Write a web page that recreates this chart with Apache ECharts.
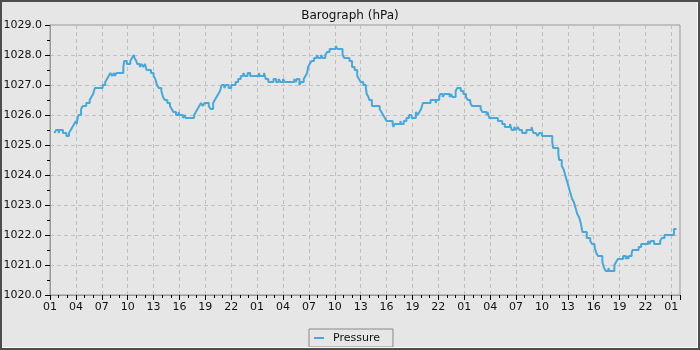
<!DOCTYPE html>
<html><head><meta charset="utf-8">
<script src="https://cdn.jsdelivr.net/npm/echarts@6/dist/echarts.min.js"></script>
<style>
html,body{margin:0;padding:0;background:#e6e6e6;}
#wrap{position:relative;width:700px;height:350px;}
#chart{position:absolute;left:0;top:0;width:700px;height:350px;}
#frame{position:absolute;left:0;top:0;width:700px;height:350px;box-sizing:border-box;border:2px solid #4d4d4d;pointer-events:none;}
#frame2{position:absolute;left:2px;top:2px;width:696px;height:346px;box-sizing:border-box;border-right:1px solid #fafafa;border-bottom:1px solid #fafafa;pointer-events:none;}
</style></head>
<body><div id="wrap"><div id="chart"></div><div id="frame"></div><div id="frame2"></div></div>
<script>
// hours since 01:00 on day 1
const hours = [0.5,0.7,1.0,1.1,1.5,1.9,2.2,2.4,2.6,2.8,3.0,3.1,3.2,3.3,3.6,3.8,4.2,4.6,4.8,5.0,5.1,5.2,6.1,6.4,6.6,6.8,7.0,7.2,7.4,7.5,7.7,8.5,8.6,8.9,9.3,9.5,9.7,9.8,10.0,10.1,10.4,10.6,10.8,11.0,11.2,11.7,12.0,12.2,12.4,12.6,12.9,13.1,13.3,13.6,13.9,14.1,14.3,14.6,14.9,15.0,15.4,15.6,15.7,16.7,16.9,17.1,17.3,17.5,17.7,17.9,18.4,18.6,18.9,19.1,19.3,19.5,19.7,19.9,20.2,20.4,20.7,21.0,21.5,21.8,22.1,22.4,22.6,22.9,23.2,24.2,24.3,24.8,25.0,25.3,25.9,26.2,26.5,26.7,27.0,27.2,28.3,28.5,28.6,28.9,29.1,29.4,29.6,29.8,29.9,30.1,30.3,30.6,30.9,31.1,31.4,31.6,31.9,32.1,32.4,33.1,33.3,33.9,34.1,34.7,35.0,35.3,35.6,35.8,36.0,36.3,36.6,36.7,36.9,37.0,37.3,38.2,38.4,38.6,38.8,39.0,39.7,39.8,39.9,40.6,40.7,41.0,41.3,41.6,41.9,42.4,42.6,42.8,43.0,43.2,44.1,44.7,44.8,45.1,45.2,45.5,45.7,46.3,46.5,46.6,47.0,47.2,47.6,47.9,48.2,48.4,48.7,48.9,49.9,50.1,50.6,50.7,50.9,51.9,52.4,52.7,53.3,53.5,53.8,54.0,54.2,54.4,54.7,55.2,55.8,55.9,56.0,56.3,56.5,56.7,57.0,58.2,58.3,58.9,59.0,59.3,59.5,59.6,59.8,59.9,60.1,60.2,60.4,60.5,60.7,60.9,61.1,61.3,61.5,61.7,62.2,62.6,62.8,63.1,63.3,63.5,64.0,64.2,64.4,64.7,64.8,65.4,65.6,65.8,66.4,66.7,66.9,67.0,67.1,67.4,67.5,68.2,68.5,69.3,69.5,69.6,70.0,70.7,70.9,71.2,72.3,72.6];
const pressure = [1025.4,1025.5,1025.4,1025.5,1025.4,1025.3,1025.4,1025.5,1025.6,1025.7,1025.8,1025.7,1025.9,1026.0,1026.2,1026.3,1026.4,1026.5,1026.6,1026.7,1026.8,1026.9,1027.0,1027.1,1027.2,1027.3,1027.4,1027.3,1027.4,1027.3,1027.4,1027.6,1027.8,1027.7,1027.8,1027.9,1028.0,1027.9,1027.8,1027.7,1027.6,1027.7,1027.6,1027.7,1027.5,1027.4,1027.3,1027.2,1027.0,1026.9,1026.8,1026.6,1026.5,1026.4,1026.3,1026.2,1026.1,1026.0,1026.1,1026.0,1025.9,1026.0,1025.9,1026.0,1026.1,1026.2,1026.3,1026.4,1026.3,1026.4,1026.3,1026.2,1026.4,1026.5,1026.6,1026.7,1026.8,1027.0,1026.9,1027.0,1026.9,1027.0,1027.1,1027.2,1027.3,1027.4,1027.3,1027.4,1027.3,1027.4,1027.3,1027.4,1027.2,1027.1,1027.2,1027.1,1027.2,1027.1,1027.2,1027.1,1027.2,1027.1,1027.2,1027.0,1027.1,1027.2,1027.3,1027.4,1027.6,1027.7,1027.8,1027.9,1028.0,1027.9,1028.0,1027.9,1028.0,1028.1,1028.2,1028.3,1028.2,1028.0,1027.9,1027.8,1027.6,1027.5,1027.3,1027.2,1027.1,1027.0,1026.9,1026.7,1026.6,1026.5,1026.3,1026.2,1026.1,1026.0,1025.9,1025.8,1025.7,1025.6,1025.7,1025.8,1025.7,1025.8,1025.9,1026.0,1025.9,1026.1,1026.0,1026.1,1026.2,1026.4,1026.5,1026.4,1026.5,1026.6,1026.7,1026.6,1026.7,1026.6,1026.7,1026.6,1026.8,1026.9,1026.8,1026.7,1026.6,1026.5,1026.4,1026.3,1026.2,1026.1,1026.0,1026.1,1025.9,1025.8,1025.7,1025.6,1025.7,1025.5,1025.6,1025.5,1025.6,1025.5,1025.4,1025.5,1025.6,1025.5,1025.4,1025.4,1025.3,1025.4,1025.3,1025.1,1024.9,1024.7,1024.5,1024.3,1024.2,1024.1,1023.9,1023.8,1023.6,1023.5,1023.3,1023.2,1023.1,1022.9,1022.7,1022.6,1022.4,1022.1,1021.9,1021.8,1021.7,1021.6,1021.4,1021.3,1021.1,1020.9,1020.8,1020.9,1020.8,1021.0,1021.1,1021.2,1021.3,1021.2,1021.3,1021.2,1021.3,1021.4,1021.5,1021.6,1021.7,1021.8,1021.7,1021.8,1021.7,1021.8,1021.9,1022.0,1022.2,1022.2];
const titleText = 'Barograph (hPa)';
const seriesName = 'Pressure';
const xMin = 0, xMax = 73, xInterval = 3;
const yMin = 1020, yMax = 1029, yInterval = 1;

const font = 'DejaVu Sans';
const chart = echarts.init(document.getElementById('chart'), null, {renderer:'canvas'});
chart.setOption({
  animation:false,
  backgroundColor:'#e6e6e6',
  title:{text:titleText,left:'center',top:5,textStyle:{fontFamily:font,fontSize:12,fontWeight:'normal',color:'#111'}},
  legend:{data:[seriesName],left:309,top:329,orient:'horizontal',icon:'rect',itemWidth:10,itemHeight:2,
    padding:[2,13,2,5],borderColor:'#888',borderWidth:1,
    textStyle:{fontFamily:font,fontSize:11,color:'#111',lineHeight:14,padding:[0,0,0,4]}},
  grid:{left:50,right:20,top:25,bottom:55,show:true,borderColor:'#999',borderWidth:1,backgroundColor:'transparent'},
  xAxis:{type:'value',min:xMin,max:xMax,interval:xInterval,
    axisLine:{show:true,lineStyle:{color:'#999'}},
    axisTick:{show:true,length:5,lineStyle:{color:'#000'}},
    minorTick:{show:true,splitNumber:3,length:3,lineStyle:{color:'#000'}},
    axisLabel:{fontFamily:font,fontSize:11,color:'#111',margin:7,showMaxLabel:false,
      formatter:v=>String((Math.round(v)+1)%24).padStart(2,'0')},
    splitLine:{show:true,lineStyle:{color:'#c0c0c0',type:[4,3],width:1}}},
  yAxis:{type:'value',min:yMin,max:yMax,interval:yInterval,
    axisLine:{show:true,lineStyle:{color:'#999'}},
    axisTick:{show:true,length:5,lineStyle:{color:'#000'}},
    minorTick:{show:true,splitNumber:2,length:3,lineStyle:{color:'#000'}},
    axisLabel:{fontFamily:font,fontSize:11,color:'#111',margin:8,formatter:v=>v.toFixed(1)},
    splitLine:{show:true,lineStyle:{color:'#c0c0c0',type:[4,3],width:1}}},
  series:[{name:seriesName,type:'line',step:'end',showSymbol:false,symbol:'none',
    color:'#4aa8d8',lineStyle:{width:2,color:'#4aa8d8'},
    data:hours.map((h,i)=>[h,pressure[i]])}]
});
</script></body></html>
